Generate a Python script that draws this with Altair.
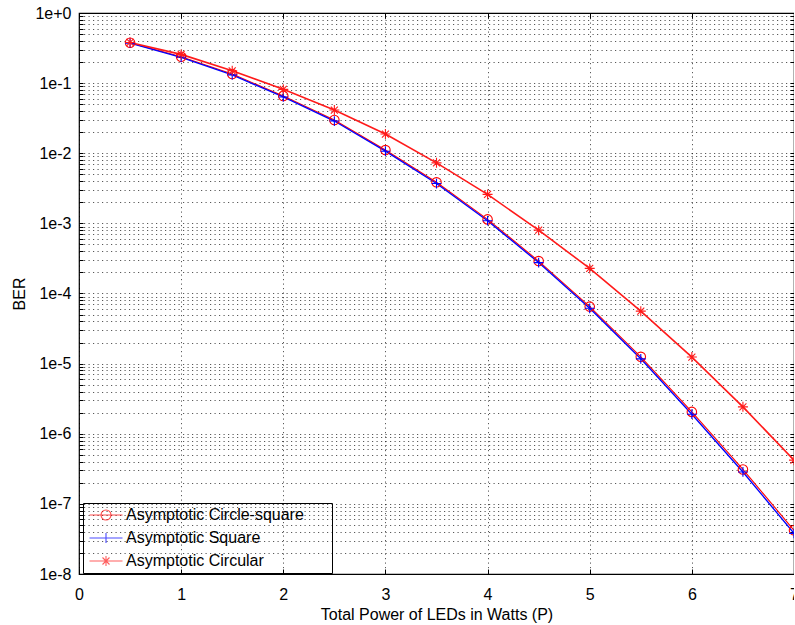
import altair as alt
import pandas as pd

power = [0.5, 1, 1.5, 2, 2.5, 3, 3.5, 4, 4.5, 5, 5.5, 6, 6.5, 7]
circle_square = [0.377, 0.238, 0.135, 0.0655, 0.0298, 0.0111, 0.00385, 0.00114,
                 2.9e-4, 6.5e-5, 1.25e-5, 2.05e-6, 3.1e-7, 4.2e-8]
square = [0.372, 0.233, 0.131, 0.0635, 0.0288, 0.0107, 0.0037, 0.00109,
          2.76e-4, 6.15e-5, 1.17e-5, 1.9e-6, 2.85e-7, 3.8e-8]
circular = [0.38, 0.257, 0.150, 0.0815, 0.0413, 0.0188, 0.0073, 0.00259,
            8.0e-4, 2.28e-4, 5.6e-5, 1.24e-5, 2.42e-6, 4.2e-7]

names = ["Asymptotic Circle-square", "Asymptotic Square", "Asymptotic Circular"]
colors = ["#ff0000", "#0000ff", "#ff1a1a"]

rows = []
for n, vals in zip(names, [circle_square, square, circular]):
    for p, v in zip(power, vals):
        rows.append({"P": p, "BER": v, "series": n})
df = pd.DataFrame(rows)

y_ticks = [m * 10.0 ** k for k in range(-8, 0) for m in range(1, 10)] + [1.0]
x_ticks = [0, 1, 2, 3, 4, 5, 6, 7]

FONT = "Liberation Sans"
x_scale = alt.Scale(domain=[0, 7], nice=False)
y_scale = alt.Scale(type="log", domain=[1e-8, 1], nice=False)

GRID = dict(grid=True, gridDash=[1.2, 3.3], gridColor="#000000", gridOpacity=0.65, gridWidth=1)

lexpr = ("abs(log(datum.value)/LN10 - round(log(datum.value)/LN10)) < 0.01 ? "
         "(round(log(datum.value)/LN10) == 0 ? '1e+0' : '1e' + round(log(datum.value)/LN10)) : ''")

x_main = alt.X("P:Q", scale=x_scale,
               axis=alt.Axis(values=x_ticks, title="Total Power of LEDs in Watts (P)", orient="bottom",
                             ticks=False, domain=False, labelFontSize=16, titleFontSize=16,
                             labelFont=FONT, titleFont=FONT, labelColor="#000", titleColor="#000",
                             titleFontWeight="normal", labelPadding=12, titlePadding=4,
                             labelFlush=False, **GRID))
y_main = alt.Y("BER:Q", scale=y_scale,
               axis=alt.Axis(values=y_ticks, title="BER", labelExpr=lexpr, orient="left",
                             ticks=False, domain=False, labelFontSize=16, titleFontSize=16,
                             labelFont=FONT, titleFont=FONT, labelColor="#000", titleColor="#000",
                             titleFontWeight="normal", labelPadding=8, titlePadding=7,
                             labelOverlap=False, labelFlush=False, **GRID))

x_none = alt.X("P:Q", scale=x_scale, axis=None)
y_none = alt.Y("BER:Q", scale=y_scale, axis=None)

color_scale = alt.Scale(domain=names, range=colors)

lines = alt.Chart(df).mark_line().encode(
    x=x_main, y=y_main,
    color=alt.Color("series:N", scale=color_scale, legend=None),
    strokeWidth=alt.StrokeWidth("series:N", scale=alt.Scale(domain=names, range=[1.1, 1.6, 0.9]), legend=None),
    detail="series:N",
)

circle_path = "M-1,0A1,1,0,1,0,1,0A1,1,0,1,0,-1,0"
plus_path = "M-1,0L1,0M0,-1L0,1"
star_path = "M-1,0L1,0M0,-1L0,1M-0.7,-0.7L0.7,0.7M-0.7,0.7L0.7,-0.7"

points = alt.Chart(df).mark_point(filled=False, strokeWidth=1.1, opacity=1).encode(
    x=x_none, y=y_none,
    color=alt.Color("series:N", scale=color_scale, legend=None),
    shape=alt.Shape("series:N", scale=alt.Scale(domain=names, range=[circle_path, plus_path, star_path]), legend=None),
    size=alt.Size("series:N", scale=alt.Scale(domain=names, range=[90, 100, 85]), legend=None),
)

# inward tick marks on all four sides (tick-only axes)
def tick_axis(orient, vals, size):
    return alt.Axis(orient=orient, values=vals, labels=False, title=None, domain=False, grid=False,
                    ticks=True, tickSize=size, offset=-size, tickColor="#000000", tickWidth=1)

ticks_a = alt.Chart(df).mark_point(opacity=0).encode(
    x=alt.X("P:Q", scale=x_scale, axis=tick_axis("bottom", x_ticks, 5)),
    y=alt.Y("BER:Q", scale=y_scale, axis=tick_axis("left", y_ticks, 4)),
)
ticks_b = alt.Chart(df).mark_point(opacity=0).encode(
    x=alt.X("P:Q", scale=x_scale, axis=tick_axis("top", x_ticks, 5)),
    y=alt.Y("BER:Q", scale=y_scale, axis=tick_axis("right", y_ticks, 4)),
)

L = 3.3
leg_paths = [
    f"M-{L},0L{L},0M-1,0A1,1,0,1,0,1,0A1,1,0,1,0,-1,0",
    f"M-{L},0L{L},0M0,-1L0,1",
    f"M-{L},0L{L},0M0,-1L0,1M-0.7,-0.7L0.7,0.7M-0.7,0.7L0.7,-0.7",
]

legend_layer = alt.Chart(df).transform_filter("datum.BER < 0").mark_point(filled=False, strokeWidth=1.1).encode(
    x=x_none, y=y_none,
    color=alt.Color("series:N", scale=alt.Scale(domain=names, range=colors), title=None,
                    legend=alt.Legend(orient="none", legendX=4, legendY=490, title=None,
                                      strokeColor="#000000", padding=4, symbolSize=100,
                                      symbolOffset=11, labelOffset=12, rowPadding=7,
                                      labelFontSize=16, labelFont=FONT, labelColor="#000",
                                      symbolStrokeWidth=1.1, cornerRadius=0,
                                      labelExpr="datum.label + '\u2800\u2800'",
                                      labelLimit=400)),
    shape=alt.Shape("series:N", scale=alt.Scale(domain=names, range=leg_paths), title=None),
)

chart = alt.layer(lines, points, ticks_a, ticks_b, legend_layer).resolve_scale(
    shape="independent", color="independent"
).resolve_axis(
    x="independent", y="independent"
).properties(
    width=715, height=561,
    autosize=alt.AutoSizeParams(type="none"),
    padding={"left": 79, "top": 13, "right": 0, "bottom": 51},
    background="#ffffff",
).configure_view(stroke="#000000", strokeWidth=1.2)

chart.save("out.html", embed_options={"renderer": "svg", "actions": False})
